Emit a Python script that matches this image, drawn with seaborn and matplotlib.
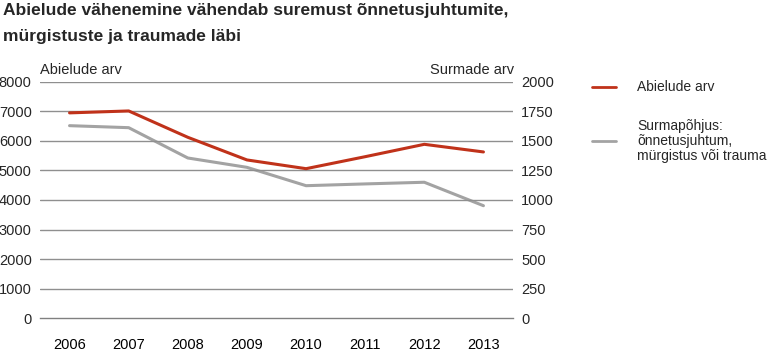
import matplotlib
matplotlib.use("Agg")
import matplotlib.pyplot as plt
import numpy as np
import pandas as pd
import seaborn as sns

#%% Data
years = [2006, 2007, 2008, 2009, 2010, 2011, 2012, 2013]
marriages = [6940, 7005, 6115, 5350, 5055, 5460, 5878, 5620]
deaths = [1627, 1610, 1354, 1275, 1120, 1135, 1149, 951]

left_ticks = [0, 1000, 2000, 3000, 4000, 5000, 6000, 7000, 8000]
right_ticks = [0, 250, 500, 750, 1000, 1250, 1500, 1750, 2000]

title = "Abielude vähenemine vähendab suremust õnnetusjuhtumite,\nmürgistuste ja traumade läbi"
left_label = "Abielude arv"
right_label = "Surmade arv"
legend_labels = ["Abielude arv", "Surmapõhjus:\nõnnetusjuhtum,\nmürgistus või trauma"]

data = pd.DataFrame({"year": years, "marriages": marriages, "deaths": deaths})

#%% Figure
sns.set_style("white")
plt.rcParams['font.family'] = ['Liberation Sans', 'DejaVu Sans']

red = "#c0321a"
grey = "#a3a3a3"

fig = plt.figure(figsize=(7.71, 3.52), dpi=100)
ax = fig.add_axes([40/771, 1-318.3/352, 473/771, (318.3-81.5)/352])
ax2 = ax.twinx()

for y in left_ticks[1:]:
    ax.axhline(y, color="#8f8f8f", linewidth=1, zorder=0)

sns.lineplot(data=data, x="year", y="marriages", ax=ax, color=red, linewidth=2.2, zorder=3)
sns.lineplot(data=data, x="year", y="deaths", ax=ax2, color=grey, linewidth=2.2, zorder=3)

ax.set_zorder(ax2.get_zorder() + 1)
ax.patch.set_visible(False)

ax.set_xlim(2005.5, 2013.5)
ax.set_ylim(0, 8000)
ax2.set_ylim(0, 2000)
ax.set_yticks(left_ticks)
ax2.set_yticks(right_ticks)
ax.set_xticks(years)
ax.set_xticks(np.arange(2005.5, 2014, 1), minor=True)

ax.set_xlabel("")
ax.set_ylabel("")
ax2.set_ylabel("")

for a in (ax, ax2):
    for s in a.spines.values():
        s.set_visible(False)
ax.spines["bottom"].set_visible(True)
ax.spines["bottom"].set_color("#808080")
ax.spines["bottom"].set_linewidth(1)

ax.tick_params(axis="x", which="major", length=0, pad=14, labelsize=10.5, colors="black")
ax.tick_params(axis="x", which="minor", length=5, color="#808080", width=1)
ax.tick_params(axis="y", length=0, pad=6, labelsize=10.5)
ax2.tick_params(axis="y", length=0, pad=6, labelsize=10.5)

fig.text(3/771, 1-11/352, title.split("\n")[0], fontsize=12.5, fontweight="bold",
         va="center", ha="left")
fig.text(3/771, 1-36/352, title.split("\n")[1], fontsize=12.5, fontweight="bold",
         va="center", ha="left")
fig.text(40/771, 1-70/352, left_label, fontsize=10.5, va="center", ha="left")
fig.text(514/771, 1-70/352, right_label, fontsize=10.5, va="center", ha="right")

# Legend
fig.add_artist(plt.Line2D([592/771, 616/771], [1-87/352]*2, color=red, linewidth=2))
fig.add_artist(plt.Line2D([592/771, 616/771], [1-141/352]*2, color=grey, linewidth=2))
fig.text(637/771, 1-87/352, legend_labels[0], fontsize=10, va="center", ha="left")
fig.text(637/771, 1-141/352, legend_labels[1], fontsize=10, va="center", ha="left",
         linespacing=1.1)

fig.savefig("out.png", dpi=100)
